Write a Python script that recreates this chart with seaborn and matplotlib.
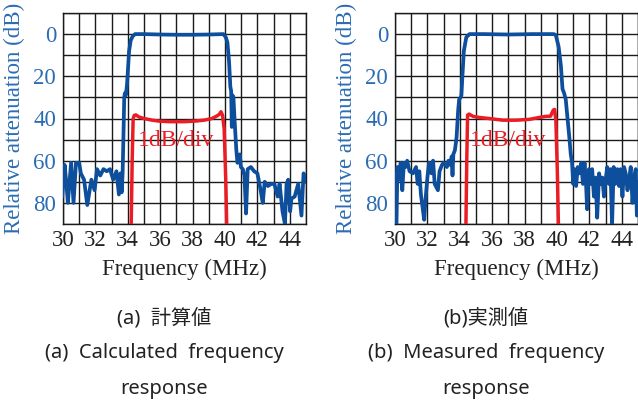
import numpy as np
import pandas as pd
import matplotlib
matplotlib.use("Agg")
import matplotlib.pyplot as plt
import seaborn as sns

# Datos (frecuencia en MHz, atenuación relativa en dB)
# (a) calculado - curva azul
freq_calc = [29.95, 30.1, 30.2, 30.3, 30.5, 30.65, 30.8, 31.0, 31.1, 31.3, 31.5, 31.75,
             31.95, 32.1, 32.3, 32.5, 32.7, 32.9, 33.1, 33.3, 33.45, 33.55, 33.62, 33.68,
             33.74, 33.78, 33.82, 33.88, 33.95, 34.0, 34.08, 34.18, 34.3, 34.45, 35.0, 36.0,
             37.0, 38.0, 39.0, 39.9, 40.05, 40.15, 40.25, 40.33, 40.38, 40.42, 40.46, 40.52,
             40.6, 40.7, 40.77, 40.85, 40.92, 40.98, 41.1, 41.2, 41.3, 41.4, 41.6, 41.8,
             42.0, 42.2, 42.33, 42.45, 42.65, 42.85, 43.05, 43.25, 43.37, 43.55, 43.7, 43.8,
             43.9, 44.02, 44.1, 44.3, 44.52, 44.72, 44.85, 45.0]
att_calc = [77, 62, 70, 80, 61, 80, 61, 61, 66, 69, 81, 69,
            74, 64, 67, 64, 65, 64, 69, 65, 76, 66, 75, 66,
            45, 30, 28, 29, 24, 18, 8, 3, 1, 0, 0, 0.2,
            0.3, 0.3, 0.2, 0, 1.5, 4, 13, 25, 27, 44, 29, 30,
            42, 55, 61, 58, 57, 63, 64, 67, 85, 64, 63, 65,
            66, 74, 80, 70, 72, 71, 71, 77, 71, 84, 90, 71,
            69, 84, 78, 77, 71, 86, 66, 70]

# (a) calculado - curva roja (1dB/div)
freq_calc_red = [34.2, 34.27, 34.33, 34.4, 34.5, 34.7, 35.0, 35.5, 36.0, 36.6, 37.5, 38.2,
                 38.7, 39.2, 39.5, 39.65, 39.75, 39.85, 39.95, 40.05, 40.12]
att_calc_red = [95, 60, 40, 38.5, 38.3, 39.3, 40, 40.8, 41.3, 41.5, 41.5, 41.2,
                40.8, 40, 38.8, 38, 36.8, 38.5, 45, 70, 95]

# (b) medido - curva azul
freq_meas = [30.0, 30.08, 30.15, 30.25, 30.35, 30.45, 30.55, 30.65, 30.75, 30.9, 31.1, 31.3,
             31.4, 31.5, 31.6, 31.7, 31.8, 31.9, 32.0, 32.1, 32.25, 32.35, 32.45, 32.65,
             32.75, 32.9, 33.0, 33.2, 33.3, 33.4, 33.5, 33.55, 33.6, 33.7, 33.8, 33.9,
             33.96, 34.05, 34.1, 34.16, 34.25, 34.4, 34.6, 35.5, 37.0, 38.5, 39.8, 39.93,
             40.1, 40.24, 40.34, 40.44, 40.54, 40.65, 40.75, 40.85, 40.93, 41.0, 41.08, 41.18,
             41.28, 41.4, 41.5, 41.6, 41.7, 41.78, 41.86, 41.97, 42.07, 42.17, 42.28, 42.38,
             42.48, 42.6, 42.7, 42.8, 42.9, 43.0, 43.1, 43.2, 43.3, 43.4, 43.5, 43.6,
             43.73, 43.83, 43.93, 44.04, 44.14, 44.24, 44.35, 44.45, 44.55, 44.66, 44.76, 44.86,
             44.93, 45.0]
att_meas = [66, 95, 63, 69, 61, 74, 61, 63, 60, 65, 66, 63,
            71, 65, 76, 82, 88, 77, 68, 61, 66, 60, 71, 74,
            65, 62, 61, 63, 60, 62, 58, 67, 57, 55, 49, 36,
            31, 30, 29, 20, 8, 1.5, 0, 0, 0.2, 0, 0, 0.5,
            6, 15, 26, 28, 31, 40, 48, 57, 61, 71, 64, 72,
            63, 66, 61, 71, 61, 69, 83, 64, 71, 64, 77, 68,
            87, 66, 71, 68, 77, 69, 63, 71, 64, 90, 63, 71,
            64, 72, 64, 77, 63, 66, 74, 69, 63, 80, 68, 64,
            86, 70]

# (b) medido - curva roja (1dB/div)
freq_meas_red = [34.37, 34.43, 34.48, 34.57, 34.82, 35.2, 35.8, 36.66, 37.5, 38.3, 38.9, 39.3,
                 39.6, 39.77, 39.85, 39.93, 40.02, 40.1]
att_meas_red = [95, 60, 38.4, 37.9, 39, 39.5, 40, 40.8, 40.8, 40.4, 39.5, 39,
                38.9, 36, 35.7, 40.8, 65, 95]

captions_a = ["(a)  計算値", "(a)  Calculated  frequency", "response"]
captions_b = ["(b)実測値", "(b)  Measured  frequency", "response"]

AZUL = "#0d4f9c"
AZUL_TXT = "#2b6cb3"
ROJO = "#ec1c24"

sns.set_theme(style="white")
plt.rcParams["font.family"] = ["Liberation Serif", "DejaVu Serif"]

fig = plt.figure(figsize=(6.38, 4.01), dpi=100)
W, H = 638, 401
ax1 = fig.add_axes([63 / W, 1 - 224 / H, 243 / W, 211 / H])
ax2 = fig.add_axes([395 / W, 1 - 224 / H, 243 / W, 211 / H])


def dibujar_panel(ax, f_az, a_az, f_ro, a_ro):
    df_az = pd.DataFrame({"f": f_az, "a": a_az})
    df_ro = pd.DataFrame({"f": f_ro, "a": a_ro})
    sns.lineplot(data=df_az, x="f", y="a", ax=ax, color=AZUL, lw=2.7,
                 estimator=None, sort=False, zorder=3)
    sns.lineplot(data=df_ro, x="f", y="a", ax=ax, color=ROJO, lw=2.5,
                 estimator=None, sort=False, zorder=4)
    ax.set_xlim(30, 45)
    ax.set_ylim(90, -10)
    ax.set_xticks(np.arange(30, 45, 2))
    ax.set_xticks(np.arange(30, 46, 1), minor=True)
    ax.set_yticks(np.arange(0, 81, 20))
    ax.set_yticks(np.arange(-10, 91, 10), minor=True)
    ax.grid(which="both", color="#1a1a1a", lw=1.0)
    ax.set_axisbelow(True)
    ax.tick_params(which="both", length=0, labelsize=16.5)
    ax.tick_params(axis="x", pad=4, labelcolor="#222222")
    ax.tick_params(axis="y", pad=5, labelcolor=AZUL_TXT)
    for s in ax.spines.values():
        s.set_color("#1a1a1a")
        s.set_linewidth(1.0)
    ax.set_xlabel("Frequency (MHz)", fontsize=16.5, color="#222222", labelpad=6)
    ax.set_ylabel("Relative attenuation (dB)", fontsize=16.5, color=AZUL_TXT, labelpad=6)
    ax.text(34.6, 50.5, "1dB/div", color=ROJO, fontsize=17, va="center", ha="left", zorder=5)


dibujar_panel(ax1, freq_calc, att_calc, freq_calc_red, att_calc_red)
dibujar_panel(ax2, freq_meas, att_meas, freq_meas_red, att_meas_red)

# Leyendas de cada panel
fam_cap = ["Noto Sans", "Noto Sans CJK JP", "DejaVu Sans"]
ys = [1 - 318 / H, 1 - 353 / H, 1 - 389 / H]
for txt, y in zip(captions_a, ys):
    fig.text(164 / W, y, txt, ha="center", va="center", fontsize=14.5,
             color="#222222", family=fam_cap)
for txt, y in zip(captions_b, ys):
    fig.text(486 / W, y, txt, ha="center", va="center", fontsize=14.5,
             color="#222222", family=fam_cap)

fig.savefig("out.png", dpi=100)
